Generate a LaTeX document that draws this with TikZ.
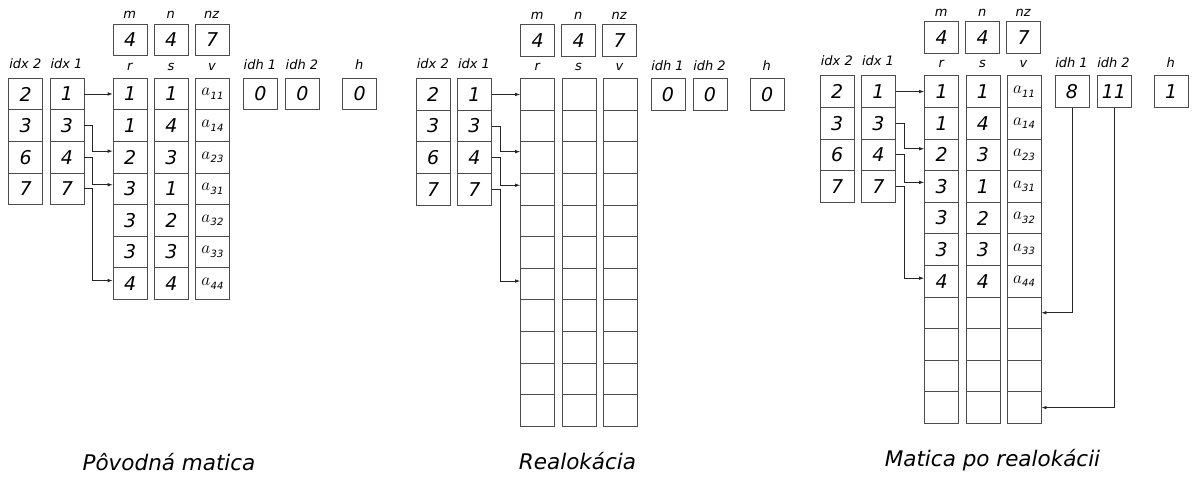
\documentclass[tikz,border=0pt]{standalone}
\usepackage{fontspec}
\newfontfamily\dv{DejaVu Sans}
\usetikzlibrary{arrows.meta}
\newcommand\cellfont{\dv\itshape\fontsize{19}{19}\selectfont}
\newcommand\labfont{\dv\itshape\fontsize{13}{13}\selectfont}
\newcommand\titfont{\dv\itshape\fontsize{21.5}{21.5}\selectfont}
\newcommand\aval[1]{{\fontsize{17}{17}\selectfont$a$}\kern0.3pt\raisebox{-3.5pt}{\dv\itshape\fontsize{10}{10}\selectfont #1}}
\tikzset{
  cell/.style={draw=black!70, line width=0.9pt, minimum width=34pt, minimum height=31.6pt, inner sep=0pt, anchor=north west},
  ctext/.style={font=\cellfont, inner sep=0pt},
  lab/.style={font=\labfont, inner sep=0pt, anchor=base},
  tit/.style={font=\titfont, inner sep=0pt, anchor=base},
  conn/.style={draw=black!85, line width=0.7pt, -{Latex[length=5pt,width=3.5pt]}}
}
\begin{document}
\begin{tikzpicture}[x=1pt,y=-1pt]
\useasboundingbox (0,0) rectangle (1192,477);
\foreach \P/\dx/\dy/\N/\ha/\hb/\hh in {L/0/0/7/0/0/0, M/407.5/0.5/11/0/0/0, R/811.5/-2.4/11/8/11/1}{
  \begin{scope}[shift={(\dx,\dy)}]
    % top boxes
    \node[cell] (\P-m) at (112.7,23.5) {};
    \node[cell] (\P-n) at (153.8,23.5) {};
    \node[cell] (\P-nz) at (194.6,23.5) {};
    \node[ctext] at (\P-m.center) {4};
    \node[ctext] at (\P-n.center) {4};
    \node[ctext] at (\P-nz.center) {7};
    \node[lab] (\P-lm) at (129.7,18.5) {m};
    \node[lab] (\P-ln) at (170.8,18.5) {n};
    \node[lab] (\P-lnz) at (211.6,18.5) {nz};
    % index columns
    \foreach \i/\a/\b in {1/2/1,2/3/3,3/6/4,4/7/7}{
      \node[cell] (\P-a-\i) at (8.3,{77.7+(\i-1)*31.6}) {};
      \node[cell] (\P-b-\i) at (49.5,{77.7+(\i-1)*31.6}) {};
      \node[ctext] at (\P-a-\i.center) {\a};
      \node[ctext] at (\P-b-\i.center) {\b};
    }
    \node[lab] (\P-la) at (25.3,68.3) {idx 2};
    \node[lab] (\P-lb) at (66.5,68.3) {idx 1};
    % r s v columns
    \foreach \i in {1,...,\N}{
      \node[cell] (\P-r-\i) at (112.7,{77.7+(\i-1)*31.6}) {};
      \node[cell] (\P-s-\i) at (154.0,{77.7+(\i-1)*31.6}) {};
      \node[cell] (\P-v-\i) at (195.0,{77.7+(\i-1)*31.6}) {};
    }
    \node[lab] (\P-lr) at (129.7,70) {r};
    \node[lab] (\P-ls) at (171.0,70) {s};
    \node[lab] (\P-lv) at (212.0,70) {v};
    % idh, h
    \node[cell] (\P-h1) at (243.0,77.7) {};
    \node[cell] (\P-h2) at (285.0,77.7) {};
    \node[cell] (\P-hh) at (342.3,77.7) {};
    \node[ctext] at (\P-h1.center) {\ha};
    \node[ctext] at (\P-h2.center) {\hb};
    \node[ctext] at (\P-hh.center) {\hh};
    \node[lab] (\P-lh1) at (260.0,69.5) {idh 1};
    \node[lab] (\P-lh2) at (302.0,69.5) {idh 2};
    \node[lab] (\P-lhh) at (359.3,69.5) {h};
  \end{scope}
  % connectors from idx 1 to r
  \draw[conn] (\P-b-1.east) -- (\P-b-1.east -| \P-r-1.west);
  \draw[conn] (\P-b-2.east) -- ++(8,0) |- ([yshift=6pt]\P-r-3.west);
  \draw[conn] (\P-b-3.east) -- ++(8,0) |- ([yshift=4pt]\P-r-4.west);
  \draw[conn] (\P-b-4.east) -- ++(8,0) |- ([yshift=3pt]\P-r-7.west);
}
% contents of r, s, v
\foreach \P in {L,R}{
  \foreach \i/\r/\s/\v in {1/1/1/11,2/1/4/14,3/2/3/23,4/3/1/31,5/3/2/32,6/3/3/33,7/4/4/44}{
    \node[ctext] at (\P-r-\i.center) {\r};
    \node[ctext] at (\P-s-\i.center) {\s};
    \node[inner sep=0pt] at (\P-v-\i.center) {\aval{\v}};
  }
}
% connectors from idh to free cells
\draw[conn] (R-h1.south) |- (R-v-8.east);
\draw[conn] (R-h2.south) |- (R-v-11.east);
% titles
\node[tit] (t1) at (169,470) {Pôvodná matica};
\node[tit] (t2) at (577.5,469.3) {Realokácia};
\node[tit] (t3) at (992.5,466.7) {Matica po realokácii};
\end{tikzpicture}
\end{document}
